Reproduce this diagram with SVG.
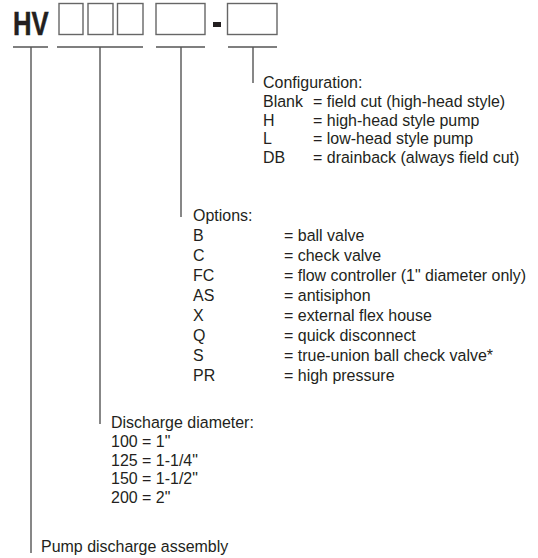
<svg xmlns="http://www.w3.org/2000/svg" width="538" height="558" viewBox="0 0 538 558">
<style>
.t{font-family:"Liberation Sans",Arial,sans-serif;font-size:17px;fill:#231f20}
.hv{font-family:"Liberation Sans",Arial,sans-serif;font-size:32.5px;font-weight:bold;fill:#231f20;stroke:#231f20;stroke-width:0.5}
.box{fill:none;stroke:#666;stroke-width:1.4}
.ln{fill:none;stroke:#555;stroke-width:1.4}
</style>
<rect width="538" height="558" fill="#fff"/>
<g id="model-code">
<text class="hv" transform="translate(13,35) scale(0.79,1)">HV</text>
<rect class="box" x="59" y="3.5" width="24" height="31"/>
<rect class="box" x="88" y="3.5" width="25" height="31"/>
<rect class="box" x="117.5" y="3.5" width="25.5" height="31"/>
<rect class="box" x="156" y="3.5" width="49" height="31"/>
<rect x="213" y="22" width="8" height="5" fill="#231f20"/>
<rect class="box" x="227.5" y="3.5" width="49.5" height="31"/>
</g>
<g id="connectors">
<path class="ln" d="M13 47H48M57 47H143M156 47H205M228 47H277"/>
<path class="ln" d="M31 47V553M100 47V424M181 47V217M253 47V83"/>
</g>
<g id="configuration">
<text class="t" transform="translate(263,88) scale(0.94,1)">Configuration:</text>
<text class="t" transform="translate(263,107) scale(0.94,1)">Blank</text>
<text class="t" transform="translate(313,107) scale(0.94,1)">= field cut (high-head style)</text>
<text class="t" transform="translate(263,125.5) scale(0.94,1)">H</text>
<text class="t" transform="translate(313,125.5) scale(0.94,1)">= high-head style pump</text>
<text class="t" transform="translate(263,144) scale(0.94,1)">L</text>
<text class="t" transform="translate(313,144) scale(0.94,1)">= low-head style pump</text>
<text class="t" transform="translate(263,162.5) scale(0.94,1)">DB</text>
<text class="t" transform="translate(313,162.5) scale(0.94,1)">= drainback (always field cut)</text>
</g>
<g id="options">
<text class="t" transform="translate(193,221) scale(0.94,1)">Options:</text>
<text class="t" transform="translate(193,241) scale(0.94,1)">B</text>
<text class="t" transform="translate(284,241) scale(0.94,1)">= ball valve</text>
<text class="t" transform="translate(193,261) scale(0.94,1)">C</text>
<text class="t" transform="translate(284,261) scale(0.94,1)">= check valve</text>
<text class="t" transform="translate(193,281) scale(0.94,1)">FC</text>
<text class="t" transform="translate(284,281) scale(0.94,1)">= flow controller (1" diameter only)</text>
<text class="t" transform="translate(193,301) scale(0.94,1)">AS</text>
<text class="t" transform="translate(284,301) scale(0.94,1)">= antisiphon</text>
<text class="t" transform="translate(193,321) scale(0.94,1)">X</text>
<text class="t" transform="translate(284,321) scale(0.94,1)">= external flex house</text>
<text class="t" transform="translate(193,341) scale(0.94,1)">Q</text>
<text class="t" transform="translate(284,341) scale(0.94,1)">= quick disconnect</text>
<text class="t" transform="translate(193,361) scale(0.94,1)">S</text>
<text class="t" transform="translate(284,361) scale(0.94,1)">= true-union ball check valve*</text>
<text class="t" transform="translate(193,381) scale(0.94,1)">PR</text>
<text class="t" transform="translate(284,381) scale(0.94,1)">= high pressure</text>
</g>
<g id="discharge-diameter">
<text class="t" transform="translate(111,428) scale(0.94,1)">Discharge diameter:</text>
<text class="t" transform="translate(111,446.8) scale(0.94,1)">100 = 1"</text>
<text class="t" transform="translate(111,465.6) scale(0.94,1)">125 = 1-1/4"</text>
<text class="t" transform="translate(111,484.4) scale(0.94,1)">150 = 1-1/2"</text>
<text class="t" transform="translate(111,503.2) scale(0.94,1)">200 = 2"</text>
</g>
<g id="pump-assembly">
<text class="t" transform="translate(41,552) scale(0.94,1)">Pump discharge assembly</text>
</g>
</svg>
